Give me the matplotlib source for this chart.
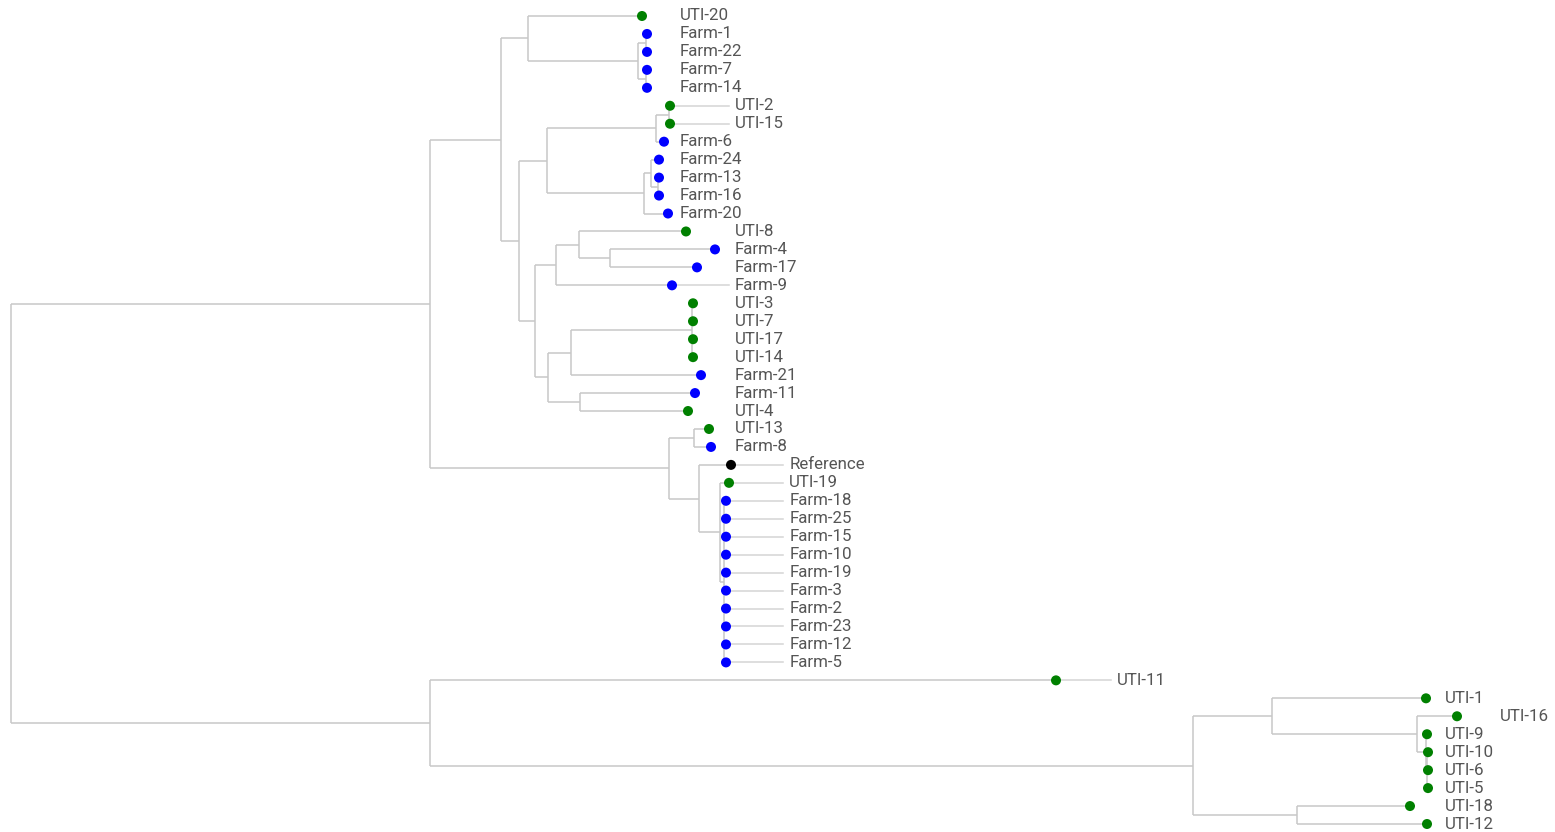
import math
import matplotlib.pyplot as plt

# tree as parallel lists: node, its parent, branch length (children keep list order)
node_names = [
    "root", "top", "bottom",
    "P", "R",
    "A", "G",
    "UTI-20", "B", "C1", "Farm-1", "Farm-22", "C2", "Farm-7", "Farm-14",
    "D", "E", "E1", "UTI-2", "UTI-15", "Farm-6",
    "F", "F1", "Farm-24", "F2", "Farm-13", "Farm-16", "Farm-20",
    "K", "H", "I", "UTI-8", "J", "Farm-4", "Farm-17", "Farm-9",
    "L", "M", "O", "UTI-3", "UTI-7", "UTI-17", "UTI-14", "Farm-21",
    "N", "Farm-11", "UTI-4",
    "S", "UTI-13", "Farm-8",
    "T", "Reference", "U", "UTI-19", "V",
    "Farm-18", "Farm-25", "Farm-15", "Farm-10", "Farm-19",
    "Farm-3", "Farm-2", "Farm-23", "Farm-12", "Farm-5",
    "UTI-11", "X", "Y", "UTI-1", "AA", "UTI-16", "AB", "UTI-9",
    "AC", "UTI-10", "UTI-6", "UTI-5",
    "Z", "UTI-18", "UTI-12",
]
node_parents = [
    None, "root", "root",
    "top", "top",
    "P", "P",
    "A", "A", "B", "C1", "C1", "B", "C2", "C2",
    "G", "D", "E", "E1", "E1", "E",
    "D", "F", "F1", "F1", "F2", "F2", "F",
    "G", "K", "H", "I", "I", "J", "J", "H",
    "K", "L", "M", "O", "O", "O", "O", "M",
    "L", "N", "N",
    "R", "S", "S",
    "R", "T", "T", "U", "U",
    "V", "V", "V", "V", "V",
    "V", "V", "V", "V", "V",
    "bottom", "bottom", "X", "Y", "Y", "AA", "AA", "AB",
    "AB", "AC", "AC", "AC",
    "X", "Z", "Z",
]
branch_lengths = [
    0.0, 0.419, 0.419,
    0.071, 0.239,
    0.027, 0.018,
    0.114, 0.110, 0.008, 0.001, 0.001, 0.008, 0.001, 0.001,
    0.028, 0.109, 0.013, 0.001, 0.001, 0.008,
    0.097, 0.007, 0.008, 0.007, 0.001, 0.001, 0.024,
    0.016, 0.021, 0.023, 0.107, 0.031, 0.105, 0.087, 0.116,
    0.013, 0.023, 0.121, 0.001, 0.001, 0.001, 0.001, 0.130,
    0.032, 0.115, 0.108,
    0.025, 0.015, 0.017,
    0.030, 0.032, 0.021, 0.009, 0.004,
    0.002, 0.002, 0.002, 0.002, 0.002,
    0.002, 0.002, 0.002, 0.002, 0.002,
    0.626, 0.763, 0.079, 0.154, 0.145, 0.040, 0.009, 0.001,
    0.001, 0.001, 0.001, 0.001,
    0.104, 0.113, 0.130,
]

group_colors = {"UTI": "#008000", "Farm": "#0000ff", "Reference": "#000000"}

children = {n: [] for n in node_names}
for n, p in zip(node_names, node_parents):
    if p is not None:
        children[p].append(n)
length = dict(zip(node_names, branch_lengths))

depth, ypos, tips = {}, {}, []


def layout(n, d):
    depth[n] = d
    kids = children[n]
    if not kids:
        ypos[n] = len(tips)
        tips.append(n)
        return
    for k in kids:
        layout(k, d + length[k])
    ypos[n] = (ypos[kids[0]] + ypos[kids[-1]]) / 2


layout("root", 0.0)

fig = plt.figure(figsize=(15.55, 8.32), dpi=100)
ax = fig.add_axes([0, 0, 1, 1])
ax.set_xlim(-0.011, 1.544)
row = 17.96
ax.set_ylim(len(tips) - 1 + 8 / row, -16 / row)
ax.axis("off")

branch = dict(color="#c8c8c8", lw=1.1, solid_capstyle="butt", zorder=1)
for n in node_names:
    kids = children[n]
    if kids:
        ax.plot([depth[n]] * 2, [ypos[kids[0]], ypos[kids[-1]]], **branch)
        for k in kids:
            ax.plot([depth[n], depth[k]], [ypos[k]] * 2, **branch)

# labels sit in columns; long gaps get a leader line
col0, step, min_gap = 0.669, 0.05464, 0.0105
for t in tips:
    k = max(0, math.ceil((depth[t] + min_gap - col0) / step))
    lx = col0 + k * step
    if lx - depth[t] > step:
        ax.plot([depth[t], lx - 0.006], [ypos[t]] * 2, color="#d4d4d4",
                lw=1.1, zorder=0)
    ax.text(lx, ypos[t], t, va="center", ha="left", fontsize=12.2,
            family="Roboto", color="#555555")

colors = [group_colors[t.split("-")[0]] for t in tips]
ax.scatter([depth[t] for t in tips], [ypos[t] for t in tips], s=52,
           c=colors, zorder=3, linewidths=0)

fig.savefig("out.png", dpi=100)
